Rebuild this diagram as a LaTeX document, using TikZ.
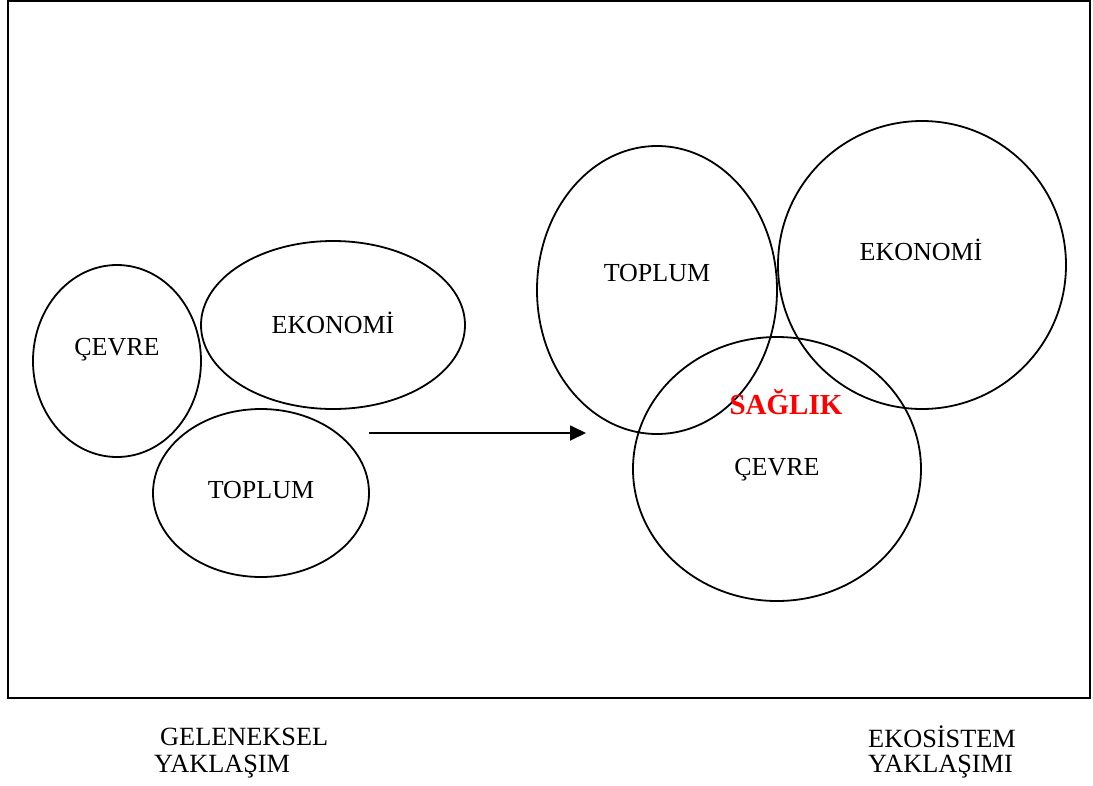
\documentclass[tikz,border=0pt]{standalone}
\usepackage{fontspec}
\setmainfont{Liberation Serif}
\usetikzlibrary{arrows.meta}
\begin{document}
\begin{tikzpicture}[x=1pt,y=-1pt,
  blob/.style={draw=black,line width=1.8pt},
  lbl/.style={font=\fontsize{26}{30}\selectfont,inner sep=0pt},
  captxt/.style={font=\fontsize{26.3}{31}\selectfont,inner sep=0pt,align=left}]
\useasboundingbox (0,0) rectangle (1093,785);
\node[draw=black,line width=2.2pt,minimum width=1082pt,minimum height=697pt,inner sep=0pt] (frame) at (549,349.5) {};
% left: traditional
\draw[blob] (117,361) ellipse [x radius=84, y radius=96];
\draw[blob] (333,325) ellipse [x radius=132, y radius=84];
\draw[blob] (261,493) ellipse [x radius=108, y radius=84];
\node[lbl] (cevreL) at (117,350) {ÇEVRE};
\node[lbl] (ekoL) at (333,323) {EKONOMİ};
\node[lbl] (topL) at (261,490) {TOPLUM};
% right: ecosystem
\draw[blob] (657,290) ellipse [x radius=120, y radius=144];
\draw[blob] (922,265) ellipse [x radius=144, y radius=144];
\draw[blob] (777,469) ellipse [x radius=144, y radius=132];
\node[lbl] (topR) at (657,273) {TOPLUM};
\node[lbl] (ekoR) at (921,250) {EKONOMİ};
\node[lbl] (cevreR) at (777,470) {ÇEVRE};
\node[lbl,text=red,font=\fontsize{29}{32}\selectfont\bfseries] (saglik) at (786,402) {SAĞLIK};
% arrow
\coordinate (a1) at (369,433);
\coordinate (a2) at (586,433);
\draw[line width=1.8pt,-{Triangle[length=16pt,width=15pt]}] (a1) -- (a2);
% captions
\node[captxt,anchor=west] (gel) at (160,737) {GELENEKSEL};
\node[captxt,anchor=west] (yak) at (154,767) {YAKLAŞIM};
\node[captxt,anchor=west] (eko) at (868,737) {EKOSİSTEM};
\node[captxt,anchor=west] (yakm) at (868,767) {YAKLAŞIMI};
\end{tikzpicture}
\end{document}
